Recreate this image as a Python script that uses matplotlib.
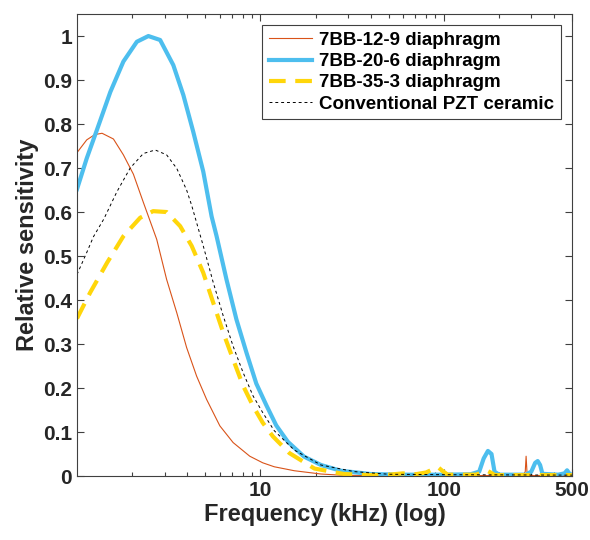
import numpy as np
import matplotlib
matplotlib.use("Agg")
import matplotlib.pyplot as plt

plt.rcParams["font.family"] = ["Liberation Sans", "DejaVu Sans"]
plt.rcParams["font.weight"] = "bold"
plt.rcParams["axes.labelweight"] = "bold"

# values (frequency in kHz, relative sensitivity)
f_129 = [1.0, 1.13, 1.25, 1.37, 1.58, 1.79, 2.03, 2.3, 2.72, 3.08, 3.5, 3.96, 4.49,
         5.09, 6.01, 7.1, 8.75, 10.3, 11.9, 15.3, 21.4, 28.6, 60, 270, 278, 281,
         284, 290, 500]
s_129 = [0.735, 0.764, 0.776, 0.779, 0.766, 0.73, 0.686, 0.622, 0.538, 0.447, 0.371,
         0.292, 0.227, 0.174, 0.114, 0.076, 0.045, 0.03, 0.021, 0.012, 0.0045, 0.0015,
         0.001, 0.001, 0.01, 0.045, 0.01, 0.001, 0.001]

f_206 = [1.0, 1.13, 1.28, 1.52, 1.79, 2.12, 2.45, 2.84, 3.35, 3.8, 4.3, 4.88, 5.42,
         5.77, 6.53, 7.4, 8.4, 9.5, 10.8, 12.2, 14.1, 17.3, 21.4, 27.4, 40, 60, 100,
         140, 156, 165, 174, 182, 189, 200, 280, 300, 315, 325, 335, 345, 420, 455,
         470, 485, 500]
s_206 = [0.652, 0.722, 0.785, 0.873, 0.942, 0.987, 1.0, 0.991, 0.934, 0.866, 0.783,
         0.692, 0.59, 0.545, 0.447, 0.356, 0.28, 0.21, 0.16, 0.115, 0.078, 0.044,
         0.025, 0.012, 0.0045, 0.003, 0.003, 0.004, 0.01, 0.04, 0.057, 0.05, 0.01,
         0.003, 0.003, 0.01, 0.03, 0.034, 0.025, 0.005, 0.003, 0.006, 0.013, 0.005,
         0.003]

f_353 = [1.0, 1.18, 1.46, 1.79, 2.21, 2.6, 3.08, 3.65, 4.22, 4.88, 5.53, 6.27, 7.1,
         8.05, 9.12, 10.3, 11.7, 14.4, 19.7, 28.6, 40, 50, 60, 70, 80, 88, 93, 98,
         105, 150, 165, 172, 180, 190, 500]
s_353 = [0.358, 0.417, 0.485, 0.545, 0.587, 0.602, 0.6, 0.568, 0.523, 0.462, 0.394,
         0.326, 0.265, 0.205, 0.159, 0.121, 0.09, 0.052, 0.017, 0.0045, 0.002, 0.003,
         0.006, 0.004, 0.008, 0.016, 0.02, 0.012, 0.003, 0.003, 0.01, 0.012, 0.008,
         0.002, 0.002]

f_pzt = [1.0, 1.13, 1.23, 1.4, 1.65, 1.95, 2.3, 2.67, 3.08, 3.5, 3.96, 4.22, 4.88,
         5.53, 6.27, 7.1, 8.05, 9.12, 10.3, 11.9, 15.3, 21.4, 32.5, 50, 100, 500]
s_pzt = [0.458, 0.508, 0.544, 0.584, 0.646, 0.7, 0.733, 0.741, 0.73, 0.699, 0.65,
         0.615, 0.523, 0.44, 0.364, 0.295, 0.235, 0.182, 0.144, 0.103, 0.059, 0.025,
         0.01, 0.004, 0.003, 0.002]

labels = ["7BB-12-9 diaphragm", "7BB-20-6 diaphragm", "7BB-35-3 diaphragm",
          "Conventional PZT ceramic"]

fig = plt.figure(figsize=(5.9, 5.4), dpi=100)
ax = fig.add_axes([0.1305, 0.1185, 0.839, 0.8555])

ax.plot(f_129, s_129, color="#D95319", lw=0.8, label=labels[0])
ax.plot(f_206, s_206, color="#4DBEEE", lw=3.0, label=labels[1])
ax.plot(f_353, s_353, color="#FFD60A", lw=3.0, dashes=(4, 2.3), label=labels[2])
ax.plot(f_pzt, s_pzt, color="black", lw=0.7, dashes=(3, 3), label=labels[3])

ax.set_xscale("log")
ax.set_xlim(1, 500)
ax.set_ylim(0, 1.05)
ax.set_xticks([10, 100, 500])
ax.set_xticklabels(["10", "100", "500"])
ax.set_yticks(np.arange(0, 1.01, 0.1))
ax.set_yticklabels(["0", "0.1", "0.2", "0.3", "0.4", "0.5", "0.6", "0.7", "0.8", "0.9", "1"])
ax.tick_params(which="both", direction="in", top=True, right=True, colors="#404040",
               labelcolor="#262626", labelsize=15, width=0.8)
ax.tick_params(which="major", length=5)
ax.tick_params(which="minor", length=3)
for sp in ax.spines.values():
    sp.set_color("#404040")
    sp.set_linewidth(0.8)

ax.set_xlabel("Frequency (kHz) (log)", fontsize=17, color="#262626", labelpad=2)
ax.set_ylabel("Relative sensitivity", fontsize=17, color="#262626", labelpad=3)

leg = ax.legend(loc="upper right", fontsize=13.5, fancybox=False, framealpha=1,
                edgecolor="#404040", handlelength=2.3, labelspacing=0.22,
                borderaxespad=0.6, handletextpad=0.4, borderpad=0.35)
leg.get_frame().set_linewidth(0.8)

fig.savefig("out.png", dpi=100)
